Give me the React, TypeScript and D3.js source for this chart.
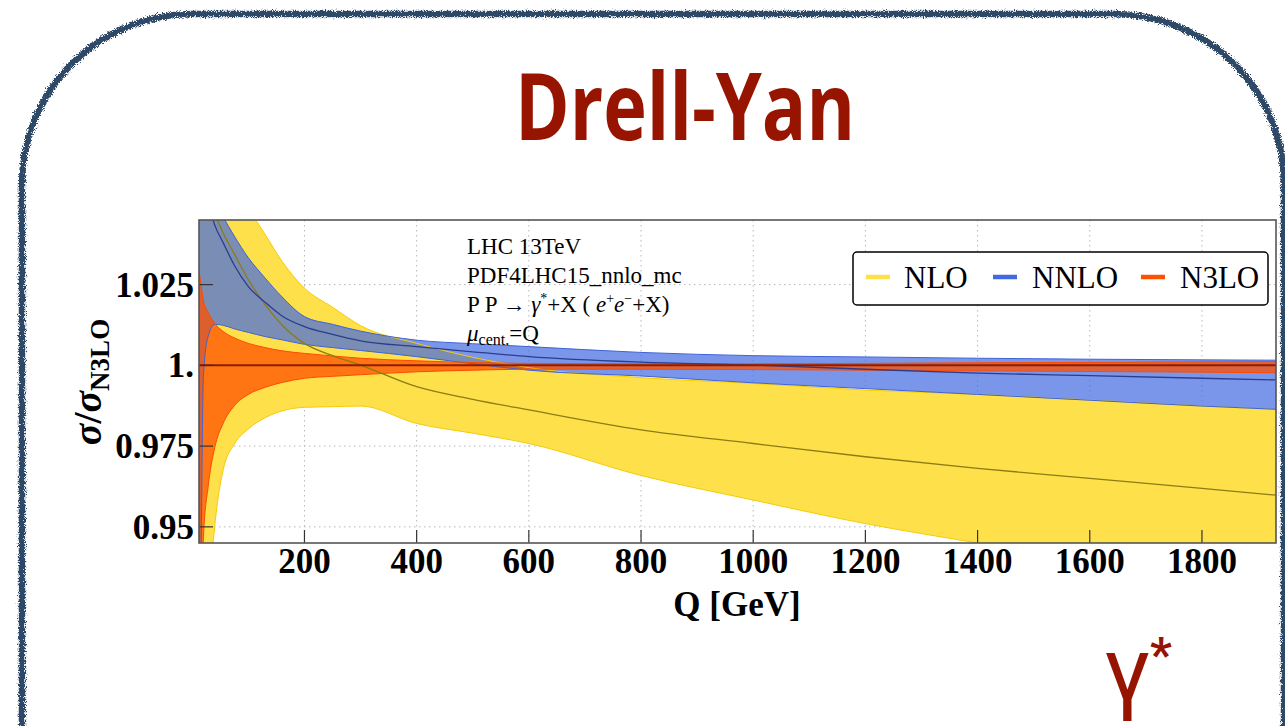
import React from 'react';
import * as d3 from 'd3';

// Scale Q [GeV] sampling shared by every curve
const qGrid = [12, 16, 20, 28, 40, 55, 75, 100, 130, 160, 200, 250, 300, 400, 500, 600, 800, 1000, 1200, 1400, 1600, 1800, 1932];

// NLO scale-variation band and central value (ratio to N3LO)
const nloHigh = [1.082, 1.078, 1.075, 1.071, 1.066, 1.061, 1.055, 1.0485, 1.0405, 1.0322, 1.0239, 1.018, 1.0123, 1.0068, 1.0025, 0.9993, 0.9962, 0.9944, 0.99235, 0.991, 0.98925, 0.9874, 0.9863];
const nloLow = [0.78, 0.84, 0.88, 0.922, 0.95, 0.9675, 0.9756, 0.9803, 0.9838, 0.9859, 0.987, 0.9872, 0.9874, 0.982, 0.979, 0.9758, 0.9659, 0.9583, 0.951, 0.945, 0.9392, 0.9335, 0.9297];
const nloCentral = [1.07, 1.063, 1.058, 1.052, 1.047, 1.041, 1.0345, 1.0265, 1.0188, 1.0125, 1.0068, 1.003, 1.0001, 0.9934, 0.9895, 0.9862, 0.98, 0.9758, 0.9717, 0.9681, 0.965, 0.9619, 0.9598];

// NNLO band and central value
const nnloHigh = [1.076, 1.068, 1.062, 1.056, 1.051, 1.046, 1.04, 1.0333, 1.027, 1.0212, 1.0151, 1.0127, 1.0106, 1.0078, 1.0067, 1.0058, 1.004, 1.003, 1.0026, 1.0022, 1.0019, 1.0017, 1.0016];
const nnloLow = [0.85, 0.945, 0.997, 1.0088, 1.0127, 1.0124, 1.0113, 1.0102, 1.0089, 1.0079, 1.0065, 1.0055, 1.0046, 1.0027, 1.0005, 0.9985, 0.9967, 0.9946, 0.9928, 0.991, 0.9892, 0.9874, 0.9864];
const nnloCentral = [1.085, 1.07, 1.06, 1.051, 1.0435, 1.038, 1.031, 1.0244, 1.0195, 1.0153, 1.012, 1.0096, 1.0076, 1.0058, 1.0042, 1.0027, 1.001, 1.0001, 0.9988, 0.9976, 0.9968, 0.996, 0.9955];

// N3LO band; its central value is the normalisation itself
const n3loHigh = [1.0295, 1.0245, 1.02, 1.0165, 1.013, 1.0105, 1.0085, 1.0068, 1.0055, 1.0045, 1.0037, 1.0029, 1.0022, 1.0014, 1.0009, 1.0006, 1.0005, 1.0005, 1.0006, 1.0008, 1.0009, 1.0011, 1.0012];
const n3loLow = [0.86, 0.915, 0.947, 0.962, 0.9745, 0.982, 0.9875, 0.991, 0.9932, 0.9947, 0.996, 0.9966, 0.9971, 0.998, 0.9985, 0.9988, 0.9988, 0.9987, 0.9985, 0.9983, 0.9981, 0.9979, 0.9977];
const n3loCentral = 1;

const xTicks = [200, 400, 600, 800, 1000, 1200, 1400, 1600, 1800];
const yTicks = [0.95, 0.975, 1, 1.025];
const yTickLabels = ['0.95', '0.975', '1.', '1.025'];

const legendItems = ['NLO', 'NNLO', 'N3LO'];

const W = 1285;
const H = 726;
const plot = { left: 199, right: 1276, top: 220, bottom: 543 };

const serif = '"Liberation Serif", "Times New Roman", serif';
const titleRed = '#971500';

const colors = {
  nloFill: '#fee04b',
  nloEdge: '#f6cc00',
  nloLine: '#8c7c12',
  nnloFill: 'rgb(65,105,225)',
  nnloEdge: '#3f63d6',
  nnloLine: '#2b3d8c',
  n3loFill: 'rgb(255,80,0)',
  n3loEdge: '#ff4a00',
  n3loLine: '#8a1f00',
};

export default function App() {
  const x = d3.scaleLinear().domain([12, 1932]).range([plot.left, plot.right]);
  const y = d3.scaleLinear().domain([0.945, 1.045]).range([plot.bottom, plot.top]);

  const band = (lo: number[], hi: number[]) =>
    d3
      .area<number>()
      .x((q) => x(q))
      .y0((_, i) => y(lo[i]))
      .y1((_, i) => y(hi[i]))
      .curve(d3.curveMonotoneX)(qGrid) as string;

  const line = (vals: number[]) =>
    d3
      .line<number>()
      .x((q) => x(q))
      .y((_, i) => y(vals[i]))
      .curve(d3.curveMonotoneX)(qGrid) as string;

  const legendX = [866, 993, 1141];
  const legendTextX = [904, 1032, 1180];
  const legendColors = [colors.nloFill, colors.nnloFill, colors.n3loFill];

  return (
    <div style={{ position: 'fixed', left: 0, top: 0, width: W, height: H, overflow: 'hidden', background: '#fff' }}>
      <svg width={W} height={H} viewBox={`0 0 ${W} ${H}`} style={{ display: 'block' }}>
        <defs>
          <filter id="rough" x="-5%" y="-5%" width="110%" height="110%">
            <feTurbulence type="fractalNoise" baseFrequency="1.1" numOctaves="2" seed="4" result="noise" />
            <feDisplacementMap in="SourceGraphic" in2="noise" scale="7" xChannelSelector="R" yChannelSelector="G" />
          </filter>
          <clipPath id="plotClip">
            <rect x={plot.left} y={plot.top} width={plot.right - plot.left} height={plot.bottom - plot.top} />
          </clipPath>
        </defs>

        <rect x={0} y={0} width={W} height={H} fill="#fff" />

        {/* hand-drawn slide frame */}
        <g filter="url(#rough)">
          <rect x={22} y={14} width={1262} height={900} rx={170} ry={170} fill="none" stroke="#2f4868" strokeWidth={6.5} />
        </g>

        {/* slide title */}
        <text
          x={515}
          y={140}
          textLength={340}
          lengthAdjust="spacingAndGlyphs"
          fontFamily='"Open Sans", "DejaVu Sans", sans-serif'
          fontWeight={700}
          fontSize={94}
          fill={titleRed}
        >
          Drell-Yan
        </text>

        {/* grid */}
        <g stroke="#b8b8b8" strokeWidth={1} strokeDasharray="1.5,3.5">
          {xTicks.map((t) => (
            <line key={`gx${t}`} x1={x(t)} x2={x(t)} y1={plot.top} y2={plot.bottom} />
          ))}
          {yTicks.map((t) => (
            <line key={`gy${t}`} x1={plot.left} x2={plot.right} y1={y(t)} y2={y(t)} />
          ))}
        </g>

        {/* bands */}
        <g clipPath="url(#plotClip)">
          <path d={band(nloLow, nloHigh)} fill={colors.nloFill} />
          <path d={band(nnloLow, nnloHigh)} fill={colors.nnloFill} fillOpacity={0.7} />
          <path d={band(n3loLow, n3loHigh)} fill={colors.n3loFill} fillOpacity={0.75} />

          <g fill="none" strokeWidth={1}>
            <path d={line(nloHigh)} stroke={colors.nloEdge} />
            <path d={line(nloLow)} stroke={colors.nloEdge} />
            <path d={line(nnloHigh)} stroke={colors.nnloEdge} />
            <path d={line(nnloLow)} stroke={colors.nnloEdge} />
            <path d={line(n3loHigh)} stroke={colors.n3loEdge} />
            <path d={line(n3loLow)} stroke={colors.n3loEdge} />
          </g>
          <path d={line(nloCentral)} fill="none" stroke={colors.nloLine} strokeWidth={1.3} />
          <path d={line(nnloCentral)} fill="none" stroke={colors.nnloLine} strokeWidth={1.3} />
          <line x1={plot.left} x2={plot.right} y1={y(n3loCentral)} y2={y(n3loCentral)} stroke={colors.n3loLine} strokeWidth={2} />
        </g>

        {/* ticks */}
        <g stroke="#333" strokeWidth={1.2}>
          {xTicks.map((t) => (
            <line key={`tx${t}`} x1={x(t)} x2={x(t)} y1={plot.bottom} y2={plot.bottom - 13} />
          ))}
          {yTicks.map((t) => (
            <line key={`ty${t}`} x1={plot.left} x2={plot.left + 14} y1={y(t)} y2={y(t)} />
          ))}
        </g>

        {/* frame */}
        <rect
          x={plot.left}
          y={plot.top}
          width={plot.right - plot.left}
          height={plot.bottom - plot.top}
          fill="none"
          stroke="#555"
          strokeWidth={1.6}
        />

        {/* tick labels */}
        <g fontFamily={serif} fontWeight="bold" fontSize={35} fill="#000">
          {xTicks.map((t) => (
            <text key={`lx${t}`} x={x(t)} y={573} textAnchor="middle">
              {String(t)}
            </text>
          ))}
          {yTicks.map((t, i) => (
            <text key={`ly${t}`} x={194} y={y(t)} dy="0.34em" textAnchor="end">
              {yTickLabels[i]}
            </text>
          ))}
        </g>

        {/* axis titles */}
        <text x={737} y={616} textAnchor="middle" fontFamily={serif} fontWeight="bold" fontSize={35}>
          Q [GeV]
        </text>
        <text
          transform="translate(101,382) rotate(-90)"
          textAnchor="middle"
          fontFamily={serif}
          fontWeight="bold"
          fontSize={40}
        >
          <tspan fontStyle="italic">σ</tspan>/<tspan fontStyle="italic">σ</tspan>
          <tspan fontSize={27} dy={8}>N3LO</tspan>
        </text>

        {/* process annotation */}
        <g fontFamily={serif} fontSize={23} fill="#000">
          <text x={467} y={254}>LHC 13TeV</text>
          <text x={467} y={283}>PDF4LHC15_nnlo_mc</text>
          <text x={467} y={312}>
            P P → <tspan fontStyle="italic">γ</tspan>
            <tspan fontSize={14} dy={-9}>*</tspan>
            <tspan dy={9}>+X ( </tspan>
            <tspan fontStyle="italic">e</tspan>
            <tspan fontSize={14} dy={-9}>+</tspan>
            <tspan fontStyle="italic" dy={9}>e</tspan>
            <tspan fontSize={14} dy={-9}>−</tspan>
            <tspan dy={9}>+X)</tspan>
          </text>
          <text x={467} y={341}>
            <tspan fontStyle="italic">μ</tspan>
            <tspan fontSize={16} dy={4}>cent.</tspan>
            <tspan dy={-4}>=Q</tspan>
          </text>
        </g>

        {/* legend */}
        <rect x={853} y={252} width={415} height={53} rx={4} fill="#fff" stroke="#000" strokeWidth={1.5} />
        {legendItems.map((name, i) => (
          <g key={name}>
            <line x1={legendX[i]} x2={legendX[i] + 24} y1={277} y2={277} stroke={legendColors[i]} strokeWidth={4.5} />
            <text x={legendTextX[i]} y={288} fontFamily={serif} fontSize={31}>
              {name}
            </text>
          </g>
        ))}

        {/* process symbol */}
        <text x={1104} y={702} fontFamily='Roboto, "Noto Sans", sans-serif' fontSize={92} fill={titleRed}>
          γ
        </text>
        <text x={1150} y={671} fontFamily='Roboto, "Noto Sans", sans-serif' fontWeight={700} fontSize={48} fill={titleRed}>
          *
        </text>
      </svg>
    </div>
  );
}
